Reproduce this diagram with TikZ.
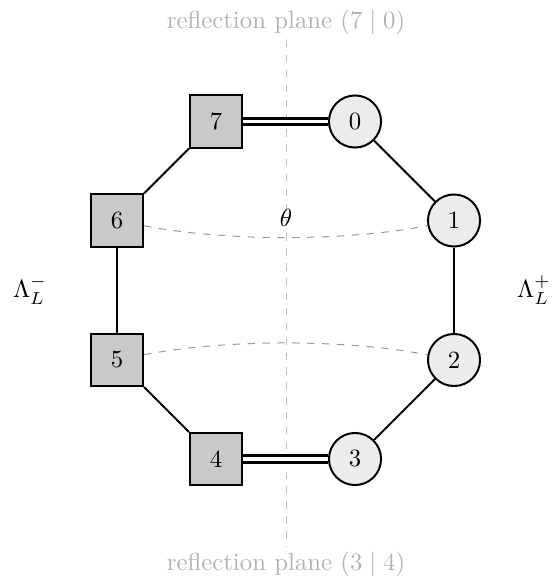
\documentclass[tikz,border=0pt]{standalone}
\usetikzlibrary{calc}
\begin{document}
\begin{tikzpicture}[x=0.4032pt,y=-0.4032pt,
  sq/.style={draw,thick,fill=gray!42,minimum size=21pt,inner sep=0pt},
  ci/.style={draw,thick,circle,fill=gray!15,minimum size=21pt,inner sep=0pt},
  edge/.style={thick},
  dbl/.style={double,line width=1.1pt,double distance=1.6pt},
  plane/.style={gray!50,dashed,thin},
  planetext/.style={text=gray!60},
  arcline/.style={gray!80,dashed,thin}]
\useasboundingbox (0,0) rectangle (556,581);
% reflection plane
\node[planetext] (ptop) at (286,22) {reflection plane $(7 \mid 0)$};
\node[planetext] (pbot) at (286,564) {reflection plane $(3 \mid 4)$};
\coordinate (ltop) at (286,40);
\coordinate (lbot) at (286,546);
\draw[plane] (ltop) -- (lbot);
% nodes
\node[ci] (n0) at (355,121.5) {0};
\node[ci] (n1) at (454,220.5) {1};
\node[ci] (n2) at (454,360) {2};
\node[ci] (n3) at (355,459) {3};
\node[sq] (n4) at (216,459) {4};
\node[sq] (n5) at (117,360) {5};
\node[sq] (n6) at (117,220.5) {6};
\node[sq] (n7) at (216,121.5) {7};
% edges
\draw[edge] (n0) -- (n1);
\draw[edge] (n1) -- (n2);
\draw[edge] (n2) -- (n3);
\draw[edge] (n4) -- (n5);
\draw[edge] (n5) -- (n6);
\draw[edge] (n6) -- (n7);
\draw[dbl] (n7) -- (n0);
\draw[dbl] (n4) -- (n3);
% angle curves
\draw[arcline] (n6) to[bend right=11,looseness=0.75] (n1);
\node (theta) at (286,218) {$\theta$};
\draw[arcline] (n5) to[bend left=11,looseness=0.75] (n2);
% lambda labels
\node (lm) at (30,290) {$\Lambda_L^-$};
\node (lp) at (534,290) {$\Lambda_L^+$};
\end{tikzpicture}
\end{document}
